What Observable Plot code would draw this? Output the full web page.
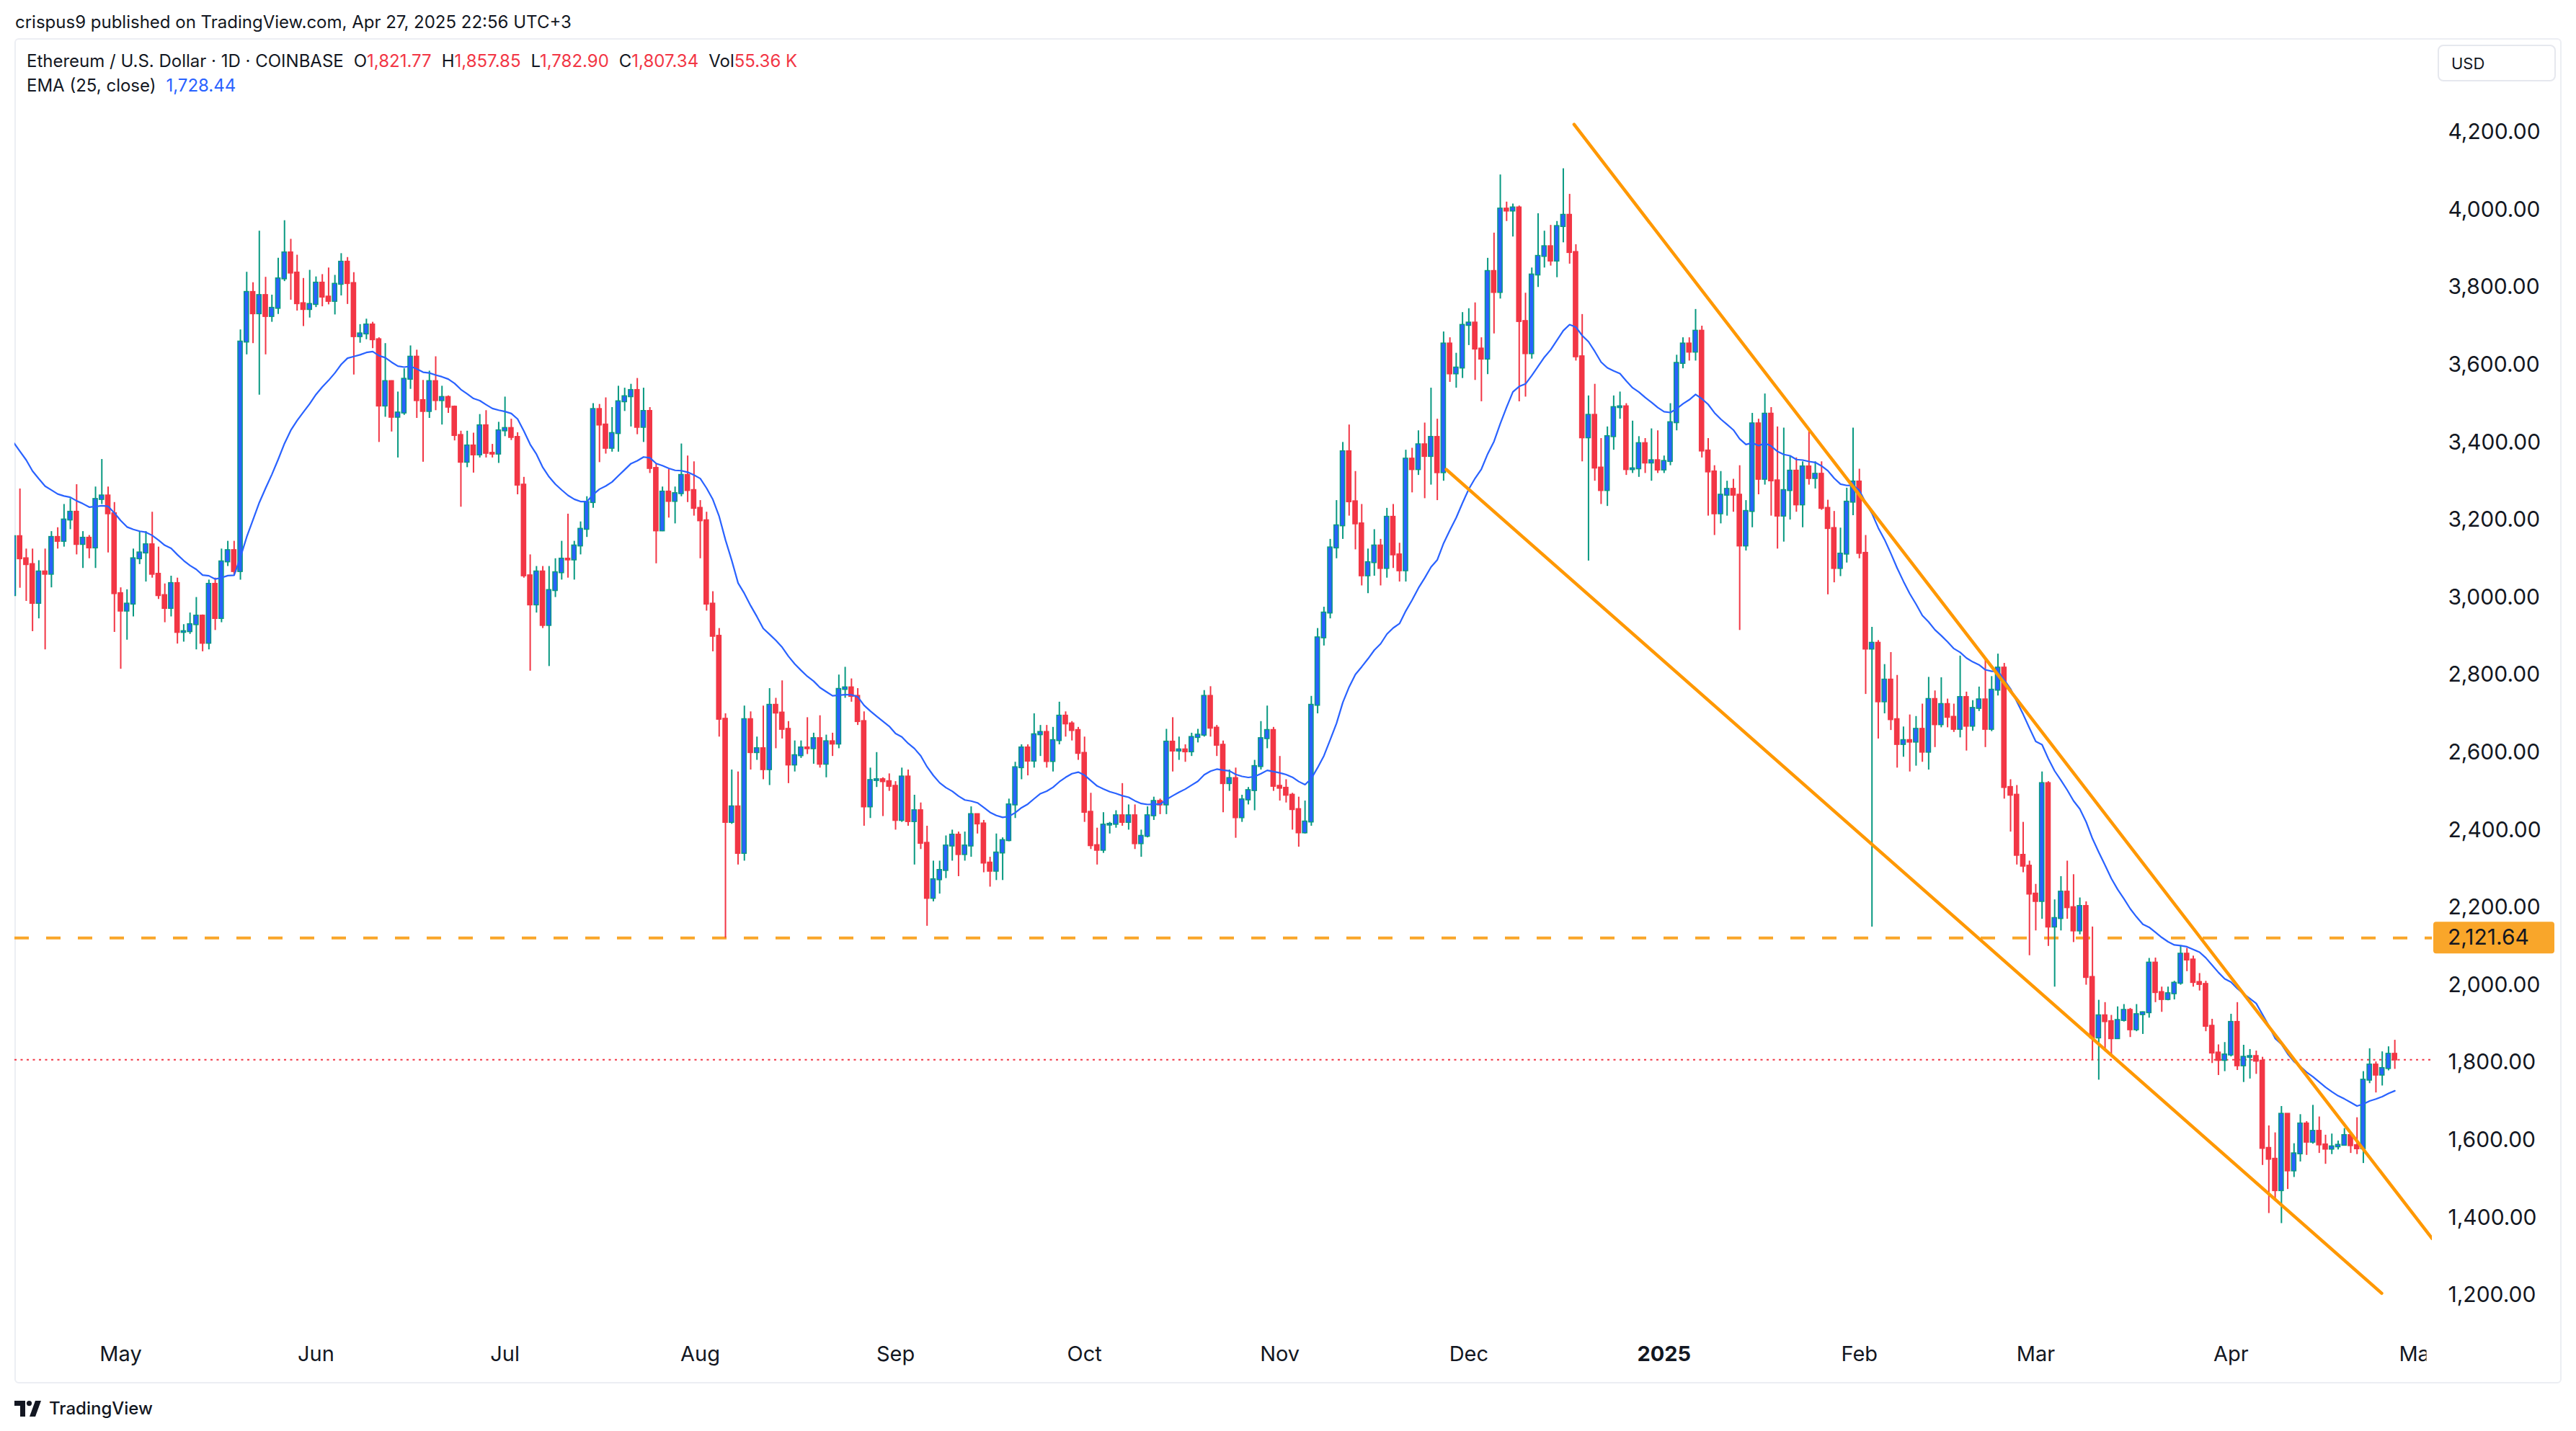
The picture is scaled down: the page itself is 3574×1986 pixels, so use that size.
<!DOCTYPE html>
<html>
<head>
<meta charset="utf-8">
<script src="https://cdn.jsdelivr.net/npm/d3@7"></script>
<script src="https://cdn.jsdelivr.net/npm/@observablehq/plot@0.6"></script>
<style>
html,body{margin:0;padding:0;background:#fff;}
#page{position:relative;width:3574px;height:1986px;overflow:hidden;font-family:Inter,"Noto Sans",sans-serif;color:#131722;}
.abs{position:absolute;white-space:nowrap;}
#pane{position:absolute;left:20px;top:53px;width:3530px;height:1863px;border:2px solid #eceef3;border-radius:6px;}
#header{left:21px;top:19px;font-size:24px;line-height:24px;}
.leg{left:37px;font-size:24px;line-height:24px;}
.leg .v{color:#F23645;}
.leg .g{margin-left:14px;}
#usd{left:3382px;top:62px;width:164px;height:51px;box-sizing:border-box;border:2px solid #e6e8ee;border-radius:8px;font-size:22px;display:flex;align-items:center;padding-left:17px;}
#chart{position:absolute;left:0;top:53px;}
#foot{left:20px;top:1940px;display:flex;align-items:center;font-size:24px;font-weight:500;}
</style>
</head>
<body>
<div id="page">
  <div id="pane"></div>
  <div id="chart"></div>
  <div class="abs" id="header">crispus9 published on TradingView.com, Apr 27, 2025 22:56 UTC+3</div>
  <div class="abs leg" style="top:73px">Ethereum / U.S. Dollar · 1D · COINBASE<span class="g">O<span class="v">1,821.77</span></span><span class="g">H<span class="v">1,857.85</span></span><span class="g">L<span class="v">1,782.90</span></span><span class="g">C<span class="v">1,807.34</span></span><span class="g">Vol<span class="v">55.36 K</span></span></div>
  <div class="abs leg" style="top:107px">EMA (25, close)<span style="margin-left:14px;color:#2962FF">1,728.44</span></div>
  <div class="abs" id="usd">USD</div>
  <div class="abs" id="foot"><svg width="40" height="22" viewBox="0 0 40 22" style="margin-right:8px"><path d="M0 0H15V22H8V7H0Z" fill="#131722"/><circle cx="20.5" cy="3.6" r="3.6" fill="#131722"/><path d="M29 0H37L29 22H21Z" fill="#131722"/></svg><span>TradingView</span></div>
</div>
<script>
// ---- Daily candles [open, high, low, close], one array per month ----
const apr24 = [[3005,3175,2865,3157],[3157,3280,3024,3100],[3100,3125,2990,3085],[3085,3125,2912,2985],[2985,3095,2945,3066],[3066,3125,2865,3060],[3060,3170,3025,3155],[3155,3180,3125,3145],[3145,3240,3130,3200],[3200,3255,3175,3220],[3220,3291,3110,3137],[3137,3170,3075,3153],[3153,3160,3100,3128],[3128,3285,3075,3253],[3253,3356,3240,3262],[3262,3285,3115,3216],[3216,3245,2910,3010]];
const may24 = [[3010,3025,2815,2965],[2965,3020,2890,2983],[2983,3125,2950,3100],[3100,3170,3085,3115],[3115,3170,3040,3136],[3136,3220,3050,3060],[3060,3130,2995,3005],[3005,3035,2935,2972],[2972,3055,2950,3036],[3036,3050,2880,2910],[2910,2930,2885,2912],[2912,2960,2905,2930],[2930,3000,2865,2952],[2952,2955,2860,2882],[2882,3045,2865,3034],[3034,3050,2915,2946],[2946,3125,2935,3092],[3092,3145,3080,3121],[3121,3145,3055,3067],[3067,3690,3045,3659],[3659,3839,3626,3787],[3787,3812,3655,3732],[3732,3945,3522,3779],[3779,3826,3626,3725],[3725,3780,3710,3746],[3746,3875,3730,3822],[3822,3972,3815,3889],[3889,3924,3767,3837],[3837,3883,3739,3758],[3758,3823,3699,3743],[3743,3844,3721,3756]];
const jun24 = [[3756,3827,3748,3811],[3811,3833,3750,3775],[3775,3850,3755,3764],[3764,3831,3729,3808],[3808,3887,3778,3865],[3865,3877,3756,3810],[3810,3838,3574,3673],[3673,3704,3656,3680],[3680,3718,3665,3703],[3703,3710,3642,3665],[3665,3670,3400,3494],[3494,3655,3465,3557],[3557,3559,3427,3465],[3465,3530,3360,3476],[3476,3590,3470,3563],[3563,3649,3537,3620],[3620,3638,3462,3508],[3508,3560,3349,3480],[3480,3584,3462,3557],[3557,3621,3482,3508],[3508,3545,3445,3516],[3516,3520,3475,3491],[3491,3494,3404,3418],[3418,3429,3233,3349],[3349,3429,3335,3391],[3391,3424,3321,3368],[3368,3472,3360,3443],[3443,3482,3360,3372],[3372,3395,3360,3370],[3370,3452,3346,3430]];
const jul24 = [[3430,3517,3415,3436],[3436,3460,3405,3413],[3413,3425,3265,3290],[3290,3310,3050,3056],[3056,3110,2810,2981],[2981,3080,2960,3066],[3066,3080,2920,2928],[2928,3080,2822,3018],[3018,3100,3000,3064],[3064,3145,3045,3099],[3099,3215,3050,3097],[3097,3145,3045,3133],[3133,3195,3110,3176],[3176,3260,3155,3245],[3245,3500,3230,3485],[3485,3498,3348,3445],[3445,3515,3370,3385],[3385,3490,3375,3423],[3423,3545,3375,3505],[3505,3540,3480,3518],[3518,3550,3440,3534],[3534,3565,3420,3439],[3439,3540,3400,3480],[3480,3490,3320,3333],[3333,3345,3087,3172],[3172,3285,3170,3272],[3272,3330,3205,3248],[3248,3285,3190,3268],[3268,3396,3260,3315],[3315,3365,3245,3276],[3276,3350,3210,3230]];
const aug24 = [[3230,3250,3100,3198],[3198,3220,2965,2983],[2983,3015,2860,2900],[2900,2920,2640,2686],[2686,2700,2121.64,2420],[2420,2555,2415,2460],[2460,2550,2310,2340],[2340,2720,2320,2685],[2685,2705,2555,2600],[2600,2640,2580,2610],[2610,2720,2530,2556],[2556,2765,2515,2722],[2722,2740,2610,2702],[2702,2785,2635,2660],[2660,2680,2520,2568],[2568,2630,2550,2592],[2592,2630,2585,2612],[2612,2690,2595,2610],[2610,2650,2570,2636],[2636,2695,2560,2570],[2570,2645,2535,2628],[2628,2650,2590,2622],[2622,2800,2610,2763],[2763,2820,2740,2767],[2767,2790,2730,2745],[2745,2765,2670,2680],[2680,2705,2410,2460],[2460,2560,2430,2528],[2528,2600,2510,2530],[2530,2535,2435,2525],[2525,2545,2500,2513]];
const sep24 = [[2513,2525,2400,2425],[2425,2560,2420,2537],[2537,2555,2410,2422],[2422,2490,2310,2450],[2450,2470,2350,2366],[2366,2410,2152,2224],[2224,2320,2215,2272],[2272,2320,2235,2296],[2296,2385,2275,2359],[2359,2400,2320,2387],[2387,2395,2280,2337],[2337,2395,2320,2359],[2359,2460,2330,2440],[2440,2440,2390,2416],[2416,2425,2290,2315],[2315,2330,2253,2294],[2294,2390,2270,2341],[2341,2380,2270,2373],[2373,2480,2370,2465],[2465,2575,2430,2561],[2561,2620,2530,2612],[2612,2620,2540,2578],[2578,2700,2560,2646],[2646,2670,2590,2652],[2652,2670,2560,2577],[2577,2665,2550,2631],[2631,2730,2620,2694],[2694,2705,2640,2674],[2674,2680,2630,2657],[2657,2665,2580,2598]];
const oct24 = [[2598,2640,2420,2446],[2446,2495,2350,2360],[2360,2405,2310,2348],[2348,2445,2340,2413],[2413,2420,2390,2415],[2415,2450,2405,2437],[2437,2520,2410,2420],[2420,2465,2400,2437],[2437,2465,2350,2365],[2365,2400,2330,2384],[2384,2460,2380,2437],[2437,2485,2425,2474],[2474,2480,2440,2465],[2465,2660,2440,2627],[2627,2690,2550,2604],[2604,2640,2580,2607],[2607,2620,2575,2602],[2602,2650,2590,2639],[2639,2660,2625,2645],[2645,2760,2640,2745],[2745,2770,2640,2663],[2663,2670,2590,2619],[2619,2630,2445,2520],[2520,2555,2500,2533],[2533,2560,2379,2432],[2432,2490,2420,2478],[2478,2510,2465,2502],[2502,2580,2450,2564],[2564,2680,2555,2636],[2636,2720,2610,2657],[2657,2665,2500,2513]];
const nov24 = [[2513,2590,2475,2508],[2508,2530,2470,2490],[2490,2495,2400,2453],[2453,2485,2356,2393],[2393,2475,2390,2421],[2421,2745,2410,2722],[2722,2920,2700,2896],[2896,2975,2875,2960],[2960,3150,2945,3128],[3128,3250,3100,3185],[3185,3400,3150,3376],[3376,3445,3210,3247],[3247,3325,3123,3190],[3190,3240,3030,3056],[3056,3125,3010,3090],[3090,3175,3055,3133],[3133,3150,3030,3075],[3075,3230,3050,3207],[3207,3240,3075,3110],[3110,3140,3040,3069],[3069,3380,3040,3357],[3357,3385,3270,3330],[3330,3430,3315,3394],[3394,3450,3255,3364],[3364,3540,3290,3413],[3413,3460,3250,3322],[3322,3685,3300,3654],[3654,3670,3555,3577],[3577,3630,3540,3592],[3592,3735,3565,3702]];
const dec24 = [[3702,3745,3650,3708],[3708,3760,3560,3641],[3641,3670,3505,3615],[3615,3875,3575,3841],[3841,3940,3680,3787],[3787,4090,3770,4002],[4002,4020,3970,3997],[3997,4015,3930,4005],[4005,4010,3505,3712],[3712,3785,3517,3629],[3629,3850,3615,3832],[3832,3990,3800,3880],[3880,3945,3850,3905],[3905,3960,3855,3868],[3868,3970,3825,3957],[3957,4106,3915,3986],[3986,4040,3860,3890],[3890,3910,3610,3621],[3621,3730,3350,3412],[3412,3520,3094,3470],[3470,3550,3300,3334],[3334,3410,3240,3276],[3276,3440,3235,3415],[3415,3520,3380,3490],[3490,3530,3460,3492],[3492,3500,3315,3330],[3330,3455,3320,3332],[3332,3415,3310,3397],[3397,3410,3320,3347],[3347,3435,3300,3353],[3353,3430,3320,3329]];
const jan25 = [[3329,3365,3320,3351],[3351,3500,3340,3451],[3451,3625,3430,3604],[3604,3670,3590,3654],[3654,3670,3610,3633],[3633,3743,3610,3687],[3687,3700,3360,3378],[3378,3410,3210,3324],[3324,3340,3160,3216],[3216,3325,3190,3264],[3264,3300,3210,3279],[3279,3305,3220,3264],[3264,3340,2915,3133],[3133,3250,3120,3222],[3222,3475,3180,3448],[3448,3460,3265,3305],[3305,3525,3290,3473],[3473,3490,3210,3301],[3301,3440,3125,3210],[3210,3437,3143,3276],[3276,3365,3200,3326],[3326,3360,3220,3239],[3239,3350,3180,3337],[3337,3428,3290,3307],[3307,3350,3280,3318],[3318,3350,3225,3230],[3230,3251,3007,3178],[3178,3222,3038,3075],[3075,3179,3054,3112],[3112,3282,3089,3246],[3246,3437,3211,3298]];
const feb25 = [[3298,3331,3100,3114],[3114,3160,2750,2867],[2867,2923,2150,2882],[2882,2889,2635,2731],[2731,2827,2700,2787],[2787,2858,2657,2685],[2685,2799,2560,2621],[2621,2666,2588,2631],[2631,2697,2550,2627],[2627,2693,2565,2660],[2660,2725,2575,2601],[2601,2794,2555,2737],[2737,2759,2613,2672],[2672,2793,2664,2724],[2724,2738,2664,2691],[2691,2725,2652,2660],[2660,2849,2638,2742],[2742,2756,2604,2668],[2668,2734,2655,2714],[2714,2769,2706,2736],[2736,2844,2613,2660],[2660,2796,2654,2761],[2761,2854,2746,2818],[2818,2830,2480,2510],[2510,2530,2395,2490],[2490,2515,2310,2335],[2335,2420,2290,2307],[2307,2320,2076,2235]];
const mar25 = [[2235,2260,2140,2216],[2216,2550,2170,2520],[2520,2525,2100,2150],[2150,2220,1995,2172],[2172,2280,2140,2240],[2240,2320,2170,2200],[2200,2285,2110,2140],[2140,2225,2130,2203],[2203,2215,2000,2020],[2020,2150,1808,1864],[1864,1961,1755,1921],[1921,1955,1829,1906],[1906,1922,1821,1862],[1862,1944,1860,1909],[1909,1950,1905,1935],[1935,1940,1865,1885],[1885,1950,1880,1924],[1924,1931,1873,1929],[1929,2069,1915,2057],[2057,2070,1955,1981],[1981,1995,1930,1963],[1963,1995,1960,1978],[1978,2010,1962,2005],[2005,2102,2000,2080],[2080,2095,2035,2065],[2065,2075,1995,2007],[2007,2030,1985,2002],[2002,2010,1880,1894],[1894,1912,1798,1825],[1825,1846,1767,1806],[1806,1852,1777,1820]];
const apr25 = [[1820,1925,1815,1904],[1904,1955,1780,1792],[1792,1845,1749,1814],[1814,1834,1758,1816],[1816,1830,1770,1804],[1804,1814,1535,1579],[1579,1637,1411,1551],[1551,1619,1448,1470],[1470,1687,1385,1667],[1667,1668,1473,1521],[1521,1591,1504,1565],[1565,1666,1544,1642],[1642,1648,1561,1595],[1595,1690,1590,1623],[1623,1660,1566,1588],[1588,1613,1538,1577],[1577,1616,1563,1583],[1583,1598,1575,1587],[1587,1630,1585,1612],[1612,1616,1566,1586],[1586,1658,1563,1578],[1578,1777,1540,1755],[1755,1836,1746,1794],[1794,1802,1722,1768],[1768,1828,1740,1785],[1785,1841,1779,1821.77],[1821.77,1857.85,1782.90,1807.34]];

const monthBlocks = [["2024-04-14",apr24],["2024-05-01",may24],["2024-06-01",jun24],["2024-07-01",jul24],["2024-08-01",aug24],["2024-09-01",sep24],["2024-10-01",oct24],["2024-11-01",nov24],["2024-12-01",dec24],["2025-01-01",jan25],["2025-02-01",feb25],["2025-03-01",mar25],["2025-04-01",apr25]];

const emaBefore = 3420;
const emaLength = 25;

// Horizontal levels
const supportLevel = 2121.64;
const lastClose = 1807.34;

// Falling wedge trend lines (two end points each)
const upperLine = [{date:"2024-12-17T17:00:00Z", price:4220},{date:"2025-05-02T22:00:00Z", price:1346}];
const lowerLine = [{date:"2024-11-27T10:00:00Z", price:3330},{date:"2025-04-24T22:00:00Z", price:1205}];

// Axis ticks
const priceTicks = [1200,1400,1600,1800,2000,2200,2400,2600,2800,3000,3200,3400,3600,3800,4000,4200];
const monthTicks = [["2024-05-01","May"],["2024-06-01","Jun"],["2024-07-01","Jul"],["2024-08-01","Aug"],["2024-09-01","Sep"],["2024-10-01","Oct"],["2024-11-01","Nov"],["2024-12-01","Dec"],["2025-02-01","Feb"],["2025-03-01","Mar"],["2025-04-01","Apr"],["2025-05-01","May"]];
const yearTicks = [["2025-01-01","2025"]];

// ---- build table ----
const DAY = 864e5;
const bars = [];
for (const [start, rows] of monthBlocks) {
  const t0 = Date.parse(start + "T00:00:00Z");
  rows.forEach((r, i) => bars.push({date: new Date(t0 + i * DAY), open: r[0], high: r[1], low: r[2], close: r[3]}));
}
const alpha = 2 / (emaLength + 1);
let e = emaBefore;
const ema = bars.map(b => { e = e + alpha * (b.close - e); return {date: b.date, value: e}; });
const lines = [...upperLine.map(d => ({...d, id: "u"})), ...lowerLine.map(d => ({...d, id: "l"}))].map(d => ({...d, date: new Date(d.date)}));
const mt = monthTicks.map(([d, t]) => ({date: new Date(d + "T00:00:00Z"), text: t}));
const yt = yearTicks.map(([d, t]) => ({date: new Date(d + "T00:00:00Z"), text: t}));

const UP_FILL = "#2962FF", UP_LINE = "#089981", DOWN = "#F23645";
const up = d => d.close >= d.open;
const fmt = d3.format(",.2f");

// layout of the frame (pixels)
const W = 3574, H = 1867, mL = 20, mR = 200, mT = 0, mB = 68;
const may1 = Date.parse("2024-05-01T00:00:00Z"), pxDay = 8.74, may1X = 167;
const xDomain = [new Date(may1 - (may1X - mL) / pxDay * DAY), new Date(may1 + (W - mR - may1X) / pxDay * DAY)];
const yDomain = [1097.8, 4441.6];

const chart = Plot.plot({
  width: W, height: H, marginLeft: mL, marginRight: mR, marginTop: mT, marginBottom: mB,
  x: {type: "utc", domain: xDomain, axis: null},
  y: {domain: yDomain, axis: null},
  color: {type: "identity"},
  style: "background:transparent;max-width:none;overflow:visible;font-family:Inter,'Noto Sans',sans-serif;",
  marks: [
    Plot.ruleY([supportLevel], {stroke: "#F9A62A", strokeWidth: 4, strokeDasharray: "20 24"}),
    Plot.ruleY([lastClose], {stroke: DOWN, strokeWidth: 2, strokeDasharray: "3 5.5"}),
    Plot.ruleX(bars, {x: "date", y1: "low", y2: "high", stroke: d => up(d) ? UP_LINE : DOWN, strokeWidth: 2, clip: true}),
    Plot.rect(bars, {
      x1: d => new Date(+d.date - DAY / 2), x2: d => new Date(+d.date + DAY / 2),
      y1: d => Math.min(d.open, d.close), y2: d => Math.max(d.open, d.close),
      fill: d => up(d) ? UP_FILL : DOWN, stroke: d => up(d) ? UP_LINE : DOWN, strokeWidth: 1.5,
      insetLeft: 1.3, insetRight: 1.3, insetTop: -0.6, insetBottom: -0.6, clip: true
    }),
    Plot.line(ema, {x: "date", y: "value", stroke: "#2962FF", strokeWidth: 2.2, clip: true}),
    Plot.line(lines, {x: "date", y: "price", z: "id", stroke: "#FF9800", strokeWidth: 4.5, clip: true}),
    Plot.text(mt, {x: "date", text: "text", frameAnchor: "bottom", dy: 36, fontSize: 29, fill: "#131722"}),
    Plot.text(yt, {x: "date", text: "text", frameAnchor: "bottom", dy: 36, fontSize: 29, fontWeight: "bold", fill: "#131722"}),
    Plot.text(priceTicks, {y: d => d, text: d => fmt(d), frameAnchor: "right", dx: 22, textAnchor: "start", fontSize: 30, fill: "#131722"})
  ]
});
document.getElementById("chart").appendChild(chart);

// price tag for the dashed level, placed with the chart's y scale
const svg = d3.select(chart);
const ys = chart.scale("y");
const yl = ys.apply(supportLevel);
svg.append("rect").attr("x", W - mR + 2).attr("y", yl - 22).attr("width", 168).attr("height", 44).attr("rx", 4).attr("fill", "#F9A62A");
svg.append("text").attr("x", W - mR + 22).attr("y", yl).attr("dy", "0.32em").attr("text-anchor", "start").attr("font-size", 30).attr("fill", "#131722").text(fmt(supportLevel));

// clip the month labels at the right edge of the plot area
const defs = svg.insert("defs", ":first-child");
defs.append("clipPath").attr("id", "xlabclip").attr("clipPathUnits", "userSpaceOnUse")
  .append("rect").attr("x", -10).attr("y", -100).attr("width", W - mR + 2).attr("height", H + 200);
const monthGroup = svg.selectAll('g[aria-label="text"]').filter(function () {
  return Array.from(this.querySelectorAll("text")).some(t => t.textContent === "Jun");
});
monthGroup.attr("clip-path", "url(#xlabclip)");
</script>
</body>
</html>
